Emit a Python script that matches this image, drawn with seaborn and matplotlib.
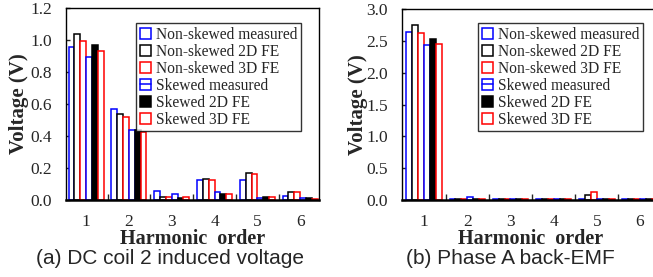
import numpy as np
import pandas as pd
import seaborn as sns
from matplotlib import pyplot as plt, ticker
from matplotlib.patches import Patch
from matplotlib.lines import Line2D
from matplotlib.legend_handler import HandlerTuple

orders = ["1", "2", "3", "4", "5", "6"]
series = ["Non-skewed measured", "Non-skewed 2D FE", "Non-skewed 3D FE",
          "Skewed measured", "Skewed 2D FE", "Skewed 3D FE"]

# (a) DC coil 2 induced voltage, one list per series over harmonic orders 1..6
dc_values = {
    "Non-skewed measured": [0.955, 0.567, 0.058, 0.125, 0.123, 0.027],
    "Non-skewed 2D FE":    [1.035, 0.537, 0.020, 0.131, 0.170, 0.052],
    "Non-skewed 3D FE":    [0.995, 0.517, 0.017, 0.123, 0.160, 0.050],
    "Skewed measured":     [0.896, 0.440, 0.040, 0.050, 0.010, 0.010],
    "Skewed 2D FE":        [0.967, 0.440, 0.010, 0.040, 0.020, 0.010],
    "Skewed 3D FE":        [0.933, 0.427, 0.019, 0.040, 0.018, 0.008],
}

# (b) Phase A back-EMF
emf_values = {
    "Non-skewed measured": [2.65, 0.02, 0.02, 0.02, 0.02, 0.02],
    "Non-skewed 2D FE":    [2.76, 0.02, 0.02, 0.02, 0.08, 0.02],
    "Non-skewed 3D FE":    [2.63, 0.02, 0.02, 0.02, 0.12, 0.02],
    "Skewed measured":     [2.44, 0.05, 0.02, 0.02, 0.01, 0.02],
    "Skewed 2D FE":        [2.53, 0.02, 0.02, 0.02, 0.01, 0.02],
    "Skewed 3D FE":        [2.46, 0.02, 0.02, 0.02, 0.01, 0.02],
}

# face, edge, middle line in legend key
styles = [("white", "#0000ff", False), ("white", "black", False), ("white", "#ff0000", False),
          ("white", "#0000ff", True), ("black", "black", False), ("white", "#ff0000", False)]


def to_long(values):
    rows = {"order": [], "series": [], "voltage": []}
    for s in series:
        for o, v in zip(orders, values[s]):
            rows["order"].append(o)
            rows["series"].append(s)
            rows["voltage"].append(v)
    return pd.DataFrame(rows)


sns.set_style("ticks")
plt.rcParams["font.family"] = ["Liberation Serif", "DejaVu Serif"]

fig = plt.figure(figsize=(6.53, 2.77), dpi=100)
ax_a = fig.add_axes([66 / 653, 77 / 277, 253 / 653, 192 / 277])
ax_b = fig.add_axes([402 / 653, 77 / 277, 257 / 653, 190.7 / 277])


def draw_panel(ax, values, ymax, ystep, xlim, leg_anchor, ylabelpad, caption, cap_x):
    df = to_long(values)
    sns.barplot(df, x="order", y="voltage", hue="series", hue_order=series,
                order=orders, width=0.82, legend=False, ax=ax, errorbar=None)
    for cont, (fc, ec, _) in zip(ax.containers, styles):
        for bar in cont:
            bar.set_facecolor(fc)
            bar.set_edgecolor(ec)
            bar.set_linewidth(1.1)

    ax.set_ylim(0, ymax)
    ax.set_xlim(*xlim)
    ax.yaxis.set_major_locator(ticker.MultipleLocator(ystep))
    ax.yaxis.set_major_formatter(ticker.FormatStrFormatter("%.1f"))
    ax.set_xticks(range(len(orders)))
    ax.set_xticklabels(orders)
    ax.xaxis.set_minor_locator(ticker.FixedLocator(np.arange(0.5, 5.0, 1.0)))
    ax.tick_params(axis="x", which="major", length=0, pad=10, labelsize=12.5)
    ax.tick_params(axis="x", which="minor", direction="in", length=4, width=1, top=False)
    ax.tick_params(axis="y", direction="in", length=3, width=1, labelsize=12.5, pad=10)
    for sp in ax.spines.values():
        sp.set_visible(True)
        sp.set_linewidth(1.0)
        sp.set_color("black")
    ax.spines["bottom"].set_linewidth(1.8)

    ax.set_xlabel("Harmonic  order", fontsize=14.5, fontweight="bold", labelpad=-1)
    ax.set_ylabel("Voltage (V)", fontsize=15, fontweight="bold", labelpad=ylabelpad)

    handles = []
    for fc, ec, mid in styles:
        p = Patch(facecolor=fc, edgecolor=ec, linewidth=1.1)
        if mid:
            handles.append((p, Line2D([], [], color=ec, lw=1.1)))
        else:
            handles.append(p)
    leg = ax.legend(handles, series, loc="upper left", bbox_to_anchor=leg_anchor,
                    borderaxespad=0, fancybox=False, frameon=True, fontsize=11.2,
                    handlelength=0.7, handleheight=0.7, handletextpad=0.3,
                    labelspacing=0.06, borderpad=0.25,
                    handler_map={tuple: HandlerTuple(ndivide=1)})
    leg.get_frame().set_edgecolor("black")
    leg.get_frame().set_linewidth(1.0)

    fig.text(cap_x, 1 - 258 / 277, caption, ha="center", va="center",
             fontsize=15, family=["Liberation Sans", "DejaVu Sans"])


draw_panel(ax_a, dc_values, 1.2, 0.2, (-0.47, 5.44), (0.277, 0.922), 1,
           "(a) DC coil 2 induced voltage", 170 / 653)
draw_panel(ax_b, emf_values, 3.0, 0.5, (-0.51, 5.44), (0.296, 0.928), -1,
           "(b) Phase A back-EMF", 510 / 653)

plt.savefig("out.png", dpi=100)
